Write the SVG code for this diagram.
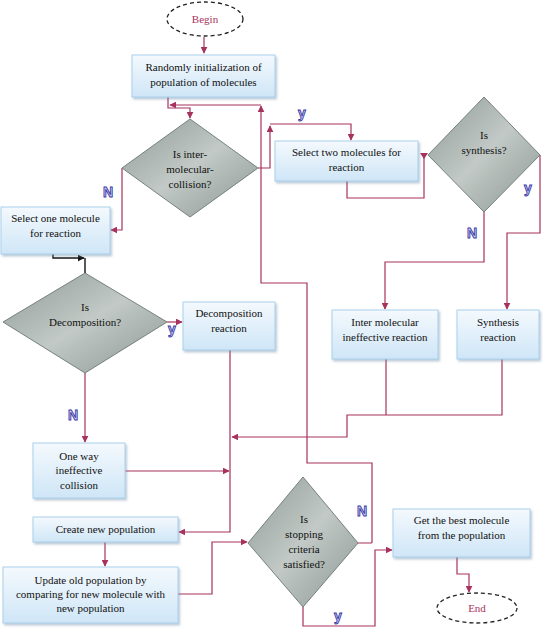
<svg xmlns="http://www.w3.org/2000/svg" width="543" height="630" viewBox="0 0 543 630">
<defs>
<linearGradient id="boxg" x1="0" y1="0" x2="0" y2="1">
<stop offset="0" stop-color="#f4f9fd"/>
<stop offset="1" stop-color="#cfe6f7"/>
</linearGradient>
<linearGradient id="diag" x1="0" y1="0" x2="1" y2="1">
<stop offset="0" stop-color="#8e9a95"/>
<stop offset="0.5" stop-color="#c2c9c6"/>
<stop offset="1" stop-color="#8a9691"/>
</linearGradient>
<filter id="sh" x="-10%" y="-10%" width="130%" height="140%">
<feDropShadow dx="1.5" dy="2" stdDeviation="1.2" flood-color="#6a8aa8" flood-opacity="0.45"/>
</filter>
<marker id="ar" viewBox="0 0 10 10" refX="9" refY="5" markerWidth="7" markerHeight="7" markerUnits="userSpaceOnUse" orient="auto">
<path d="M0,0 L10,5 L0,10 z" fill="#a8325e"/>
</marker>
<marker id="ark" viewBox="0 0 10 10" refX="9" refY="5" markerWidth="7" markerHeight="7" markerUnits="userSpaceOnUse" orient="auto">
<path d="M0,0 L10,5 L0,10 z" fill="#111"/>
</marker>
<style>
.box{fill:url(#boxg);stroke:#a9d0ec;stroke-width:1;filter:url(#sh)}
.dia{fill:url(#diag);stroke:#76827e;stroke-width:1}
.t{font-family:"Liberation Serif",serif;font-size:11px;fill:#111;text-anchor:middle}
.term{fill:#fff;stroke:#222;stroke-width:1.3;stroke-dasharray:4,3}
.tt{font-family:"Liberation Serif",serif;font-size:11px;fill:#a8325e;text-anchor:middle}
.c{fill:none;stroke:#a8325e;stroke-width:1.2}
.ck{fill:none;stroke:#111;stroke-width:1.4}
.lb{font-family:"Liberation Sans",sans-serif;font-weight:bold;font-size:14px;fill:#d4d4f6;stroke:#3838a6;stroke-width:0.9;text-anchor:middle}
</style>
</defs>
<rect width="543" height="630" fill="#fff"/>

<g id="connectors">
<path class="c" d="M204,37 V53" marker-end="url(#ar)"/>
<path class="c" d="M168,97 V108 H190 V118" marker-end="url(#ar)"/>
<path class="c" d="M372,543 H358 M372,543 V463 H307 V283 H261 V106" marker-end="url(#ar)"/>
<path class="c" d="M261,105 H170" marker-end="url(#ar)"/>
<path class="c" d="M258,168 H270 V126" marker-end="url(#ar)"/>
<path class="c" d="M270,124 H351 V140" marker-end="url(#ar)"/>
<path class="c" d="M347,181 V198 H424 V156"/>
<polygon points="420,153 428,153 424,159" fill="#a8325e"/>
<path class="c" d="M484,212 V262 H385 V309" marker-end="url(#ar)"/>
<path class="c" d="M540,155 V233 H507 V309" marker-end="url(#ar)"/>
<path class="c" d="M386,359 V415 M502,359 V415 H347 V437 H232" marker-end="url(#ar)"/>
<path class="c" d="M122,168 V230 H111" marker-end="url(#ar)"/>
<path class="ck" d="M53,254 V258 H84" marker-end="url(#ark)"/>
<path class="ck" d="M85,258 V273"/>
<path class="c" d="M167,322 H182" marker-end="url(#ar)"/>
<path class="c" d="M85,373 V442" marker-end="url(#ar)"/>
<path class="c" d="M125,471 H229" marker-end="url(#ar)"/>
<path class="c" d="M230,350 V532 H179" marker-end="url(#ar)"/>
<path class="c" d="M105,542 V566" marker-end="url(#ar)"/>
<path class="c" d="M178,594 H212 V542 H247" marker-end="url(#ar)"/>
<path class="c" d="M303,607 V626 H375 V550 H392" marker-end="url(#ar)"/>
<path class="c" d="M457,557 V574 H469 V592" marker-end="url(#ar)"/>
</g>

<g id="begin">
<ellipse class="term" cx="205" cy="19" rx="38" ry="17"/>
<text class="tt" x="205" y="23">Begin</text>
</g>

<g id="init">
<rect class="box" x="132" y="55" width="143" height="42"/>
<text class="t" x="203.5" y="71">Randomly initialization of</text>
<text class="t" x="203.5" y="86">population of molecules</text>
</g>

<g id="d-inter">
<polygon class="dia" points="190,119 258,168 190,217 122,168"/>
<text class="t" x="190" y="158">Is inter-</text>
<text class="t" x="190" y="173">molecular-</text>
<text class="t" x="190" y="188">collision?</text>
</g>

<g id="select-two">
<rect class="box" x="275" y="141" width="143" height="40"/>
<text class="t" x="346.5" y="156">Select two molecules for</text>
<text class="t" x="346.5" y="171">reaction</text>
</g>

<g id="d-synth">
<polygon class="dia" points="484,97 540,155 484,212 428,155"/>
<text class="t" x="484" y="139">Is</text>
<text class="t" x="484" y="154">synthesis?</text>
</g>

<g id="select-one">
<rect class="box" x="1" y="207" width="109" height="47"/>
<text class="t" x="55.5" y="222">Select one molecule</text>
<text class="t" x="55.5" y="237">for reaction</text>
</g>

<g id="d-decomp">
<polygon class="dia" points="85,273 167,322 85,373 3,322"/>
<text class="t" x="85" y="311">Is</text>
<text class="t" x="85" y="326">Decomposition?</text>
</g>

<g id="decomp">
<rect class="box" x="183" y="302" width="92" height="48"/>
<text class="t" x="229" y="317">Decomposition</text>
<text class="t" x="229" y="332">reaction</text>
</g>

<g id="inter-ineff">
<rect class="box" x="332" y="310" width="106" height="49"/>
<text class="t" x="385" y="326">Inter molecular</text>
<text class="t" x="385" y="341">ineffective reaction</text>
</g>

<g id="synth">
<rect class="box" x="457" y="310" width="82" height="49"/>
<text class="t" x="498" y="326">Synthesis</text>
<text class="t" x="498" y="341">reaction</text>
</g>

<g id="oneway">
<rect class="box" x="33" y="443" width="92" height="55"/>
<text class="t" x="79" y="460">One way</text>
<text class="t" x="79" y="474">ineffective</text>
<text class="t" x="79" y="489">collision</text>
</g>

<g id="create">
<rect class="box" x="33" y="517" width="145" height="25"/>
<text class="t" x="105.5" y="533">Create new population</text>
</g>

<g id="update">
<rect class="box" x="3" y="567" width="175" height="56"/>
<text class="t" x="90.5" y="584">Update old population by</text>
<text class="t" x="90.5" y="598">comparing for new molecule with</text>
<text class="t" x="90.5" y="612">new population</text>
</g>

<g id="d-stop">
<polygon class="dia" points="303,477 358,543 303,607 248,543"/>
<text class="t" x="304" y="523">Is</text>
<text class="t" x="304" y="538">stopping</text>
<text class="t" x="304" y="553">criteria</text>
<text class="t" x="304" y="568">satisfied?</text>
</g>

<g id="best">
<rect class="box" x="393" y="509" width="137" height="48"/>
<text class="t" x="461.5" y="524">Get the best molecule</text>
<text class="t" x="461.5" y="539">from the population</text>
</g>

<g id="end">
<ellipse class="term" cx="477" cy="608" rx="40" ry="15"/>
<text class="tt" x="477" y="612">End</text>
</g>

<g id="labels">
<text class="lb" x="302" y="118">y</text>
<text class="lb" x="108" y="197">N</text>
<text class="lb" x="472" y="238">N</text>
<text class="lb" x="528" y="193">y</text>
<text class="lb" x="172" y="334">y</text>
<text class="lb" x="73" y="420">N</text>
<text class="lb" x="362" y="516">N</text>
<text class="lb" x="338" y="621">y</text>
</g>
</svg>
